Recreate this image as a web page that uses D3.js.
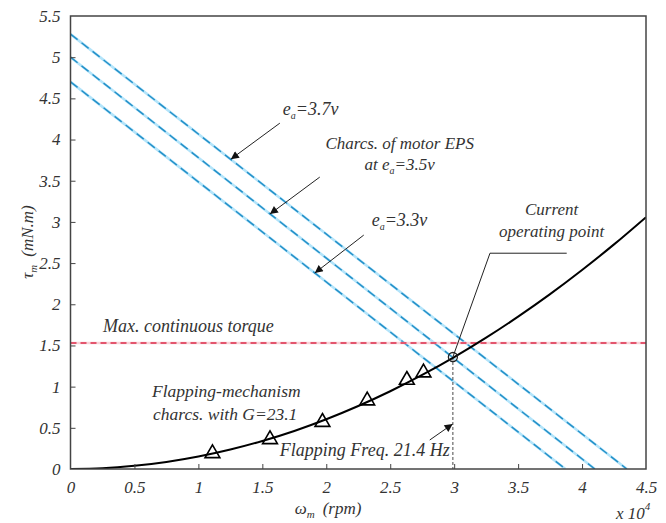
<!DOCTYPE html>
<html><head><meta charset="utf-8">
<script src="https://cdn.jsdelivr.net/npm/d3@7"></script>
<style>
body{margin:0;background:#fff;}
</style></head>
<body><div id="chart"></div>
<script>
// ---- data ----
const xTicks = [0,0.5,1,1.5,2,2.5,3,3.5,4,4.5];
const xTickLabels = ["0","0.5","1","1.5","2","2.5","3","3.5","4","4.5"];
const yTicks = [0,0.5,1,1.5,2,2.5,3,3.5,4,4.5,5,5.5];
const yTickLabels = ["0","0.5","1","1.5","2","2.5","3","3.5","4","4.5","5","5.5"];

// flapping-mechanism characteristic (omega in 1e4 rpm, torque in mN.m)
const curveOmega  = [0,0.25,0.5,0.75,1,1.25,1.5,1.75,2,2.25,2.5,2.75,3,3.25,3.5,3.75,4,4.25,4.5];
const curveTorque = [0,0.009,0.038,0.085,0.151,0.236,0.34,0.462,0.604,0.765,0.944,1.142,1.359,1.595,1.85,2.123,2.416,2.727,3.058];

// triangle markers
const markerOmega  = [1.11,1.56,1.97,2.32,2.63,2.76];
const markerTorque = [0.19,0.36,0.57,0.83,1.08,1.17];

// operating point
const opOmega = 2.99, opTorque = 1.36;

// motor EPS characteristics (torque at omega=0, omega at torque=0)
const epsLabels = ["3.7v","3.5v","3.3v"];
const epsTorque0 = [5.28,5.0,4.7];
const epsOmega0  = [4.35,4.1,3.87];

const maxTorque = 1.53;

// annotation arrows [x1,y1,x2,y2] data coords (tail -> head)
const arrows = [
  [1.637,4.199,1.254,3.762],
  [1.949,3.544,1.559,3.095],
  [2.293,2.840,1.910,2.379],
  [2.809,0.352,2.988,0.546]
];
const leaderPts = [[3.88,2.62],[3.28,2.62],[opOmega,opTorque]];

// ---- layout ----
const FONT='"Liberation Serif","Times New Roman","DejaVu Serif",serif';
const W=666,H=523;
const svg=d3.select("#chart").append("svg").attr("width",W).attr("height",H);
svg.append("rect").attr("width",W).attr("height",H).attr("fill","#fff");

const x=d3.scaleLinear().domain([0,4.5]).range([70.5,646]);
const y=d3.scaleLinear().domain([0,5.5]).range([469,16]);

const defs=svg.append("defs");
defs.append("marker").attr("id","ah").attr("viewBox","0 0 10 10").attr("refX",10).attr("refY",5)
  .attr("markerWidth",10).attr("markerHeight",8).attr("markerUnits","userSpaceOnUse").attr("orient","auto")
  .append("path").attr("d","M0,0L10,5L0,10Z").attr("fill","#111");

defs.append("clipPath").attr("id","clip").append("rect")
  .attr("x",x(0)).attr("y",y(5.5)).attr("width",x(4.5)-x(0)).attr("height",y(0)-y(5.5));

const plot=svg.append("g").attr("clip-path","url(#clip)");

// EPS lines
epsLabels.forEach((l,i)=>{
  const d=[[0,epsTorque0[i]],[epsOmega0[i],0]];
  plot.append("line").attr("x1",x(d[0][0])).attr("y1",y(d[0][1])).attr("x2",x(d[1][0])).attr("y2",y(d[1][1]))
    .attr("stroke","#b3e4fa").attr("stroke-width",2.6);
  plot.append("line").attr("x1",x(d[0][0])).attr("y1",y(d[0][1])).attr("x2",x(d[1][0])).attr("y2",y(d[1][1]))
    .attr("stroke","#2490c8").attr("stroke-width",1.5).attr("stroke-dasharray","9,5");
});

// max torque
plot.append("line").attr("x1",x(0)).attr("x2",x(4.5)).attr("y1",y(maxTorque)).attr("y2",y(maxTorque))
  .attr("stroke","#f8d3d9").attr("stroke-width",2.4);
plot.append("line").attr("x1",x(0)).attr("x2",x(4.5)).attr("y1",y(maxTorque)).attr("y2",y(maxTorque))
  .attr("stroke","#dc2d4a").attr("stroke-width",1.5).attr("stroke-dasharray","6,4");

// vertical dashed at operating point
plot.append("line").attr("x1",x(opOmega)).attr("x2",x(opOmega)).attr("y1",y(opTorque)).attr("y2",y(0))
  .attr("stroke","#333").attr("stroke-width",0.9).attr("stroke-dasharray","3,2");

// curve
const line=d3.line().x((d,i)=>x(curveOmega[i])).y((d,i)=>y(curveTorque[i])).curve(d3.curveMonotoneX);
plot.append("path").datum(curveOmega).attr("d",line).attr("fill","none").attr("stroke","#000").attr("stroke-width",2);

// triangles
const tri=d3.symbol().type(d3.symbolTriangle).size(95);
plot.selectAll(".tri").data(markerOmega).join("path")
  .attr("transform",(d,i)=>`translate(${x(d)},${y(markerTorque[i])})`)
  .attr("d",tri).attr("fill","none").attr("stroke","#000").attr("stroke-width",1.6);

// operating circle
plot.append("circle").attr("cx",x(opOmega)).attr("cy",y(opTorque)).attr("r",4.5)
  .attr("fill","none").attr("stroke","#222").attr("stroke-width",1.3);

// leader line
svg.append("path").attr("d",d3.line().x(d=>x(d[0])).y(d=>y(d[1]))(leaderPts))
  .attr("fill","none").attr("stroke","#222").attr("stroke-width",1);

// arrows
svg.selectAll(".arr").data(arrows).join("line")
  .attr("x1",d=>x(d[0])).attr("y1",d=>y(d[1])).attr("x2",d=>x(d[2])).attr("y2",d=>y(d[3]))
  .attr("stroke","#222").attr("stroke-width",1).attr("marker-end","url(#ah)");

// axes box
svg.append("rect").attr("x",x(0)).attr("y",y(5.5)).attr("width",x(4.5)-x(0)).attr("height",y(0)-y(5.5))
  .attr("fill","none").attr("stroke","#444").attr("stroke-width",1.5);

// x axis
const xa=svg.append("g").attr("transform",`translate(0,${y(0)})`)
  .call(d3.axisBottom(x).tickValues(xTicks).tickFormat((d,i)=>xTickLabels[i]).tickSizeInner(-5).tickSizeOuter(0).tickPadding(10));
xa.select(".domain").remove();
xa.selectAll("line").attr("stroke","#444");
xa.selectAll("text").attr("font-size",17).attr("dy","0.85em");

const ya=svg.append("g").attr("transform",`translate(${x(0)},0)`)
  .call(d3.axisLeft(y).tickValues(yTicks).tickFormat((d,i)=>yTickLabels[i]).tickSizeInner(-5).tickSizeOuter(0).tickPadding(10));
ya.select(".domain").remove();
ya.selectAll("line").attr("stroke","#444");
ya.selectAll("text").attr("font-size",17);
ya.selectAll("line").filter(d=>d===0||d===5.5).remove();
xa.selectAll("line").filter(d=>d===0||d===4.5).remove();

// axis labels
const xl=svg.append("text").attr("x",328).attr("y",514).attr("text-anchor","middle").attr("font-size",17);
xl.append("tspan").text("ω");
xl.append("tspan").attr("font-size",11).attr("dy",4).text("m");
xl.append("tspan").attr("dy",-4).attr("dx",8).text("(rpm)");

const x10=svg.append("text").attr("x",616).attr("y",519).attr("font-size",17);
x10.append("tspan").text("x 10");
x10.append("tspan").attr("font-size",11).attr("dy",-9).text("4");

const yl=svg.append("text").attr("transform","translate(33,242) rotate(-90)").attr("text-anchor","middle").attr("font-size",17);
yl.append("tspan").text("τ");
yl.append("tspan").attr("font-size",11).attr("dy",4).text("m");
yl.append("tspan").attr("dy",-4).attr("dx",8).text("(mN.m)");

// annotations
function ea(px,py,anchor,fs){
  return svg.append("text").attr("x",x(px)).attr("y",y(py)).attr("font-size",fs||18).attr("text-anchor",anchor||"start");
}
function eaLabel(t,pre,post){
  t.append("tspan").text(pre+"e");t.append("tspan").attr("font-size",10).attr("dy",4).text("a");t.append("tspan").attr("dy",-4).text(post);
}
eaLabel(ea(1.66,4.30),"","=3.7v");
ea(2.574,3.88,"middle",17).text("Charcs. of motor EPS");
eaLabel(ea(2.574,3.629,"middle",17),"at ","=3.5v");
eaLabel(ea(2.355,2.949),"","=3.3v");
ea(3.762,3.080,"middle",17).text("Current");
ea(3.762,2.816,"middle",17).text("operating point");
ea(0.254,1.663).text("Max. continuous torque");
ea(0.637,0.875,"start",17.5).text("Flapping-mechanism");
ea(0.645,0.595,"start",17.5).text("charcs. with G=23.1");
ea(2.965,0.158,"end").text("Flapping Freq. 21.4 Hz");

svg.selectAll("text").attr("font-family",FONT).attr("font-style","italic").attr("fill","#333");
</script></body></html>
